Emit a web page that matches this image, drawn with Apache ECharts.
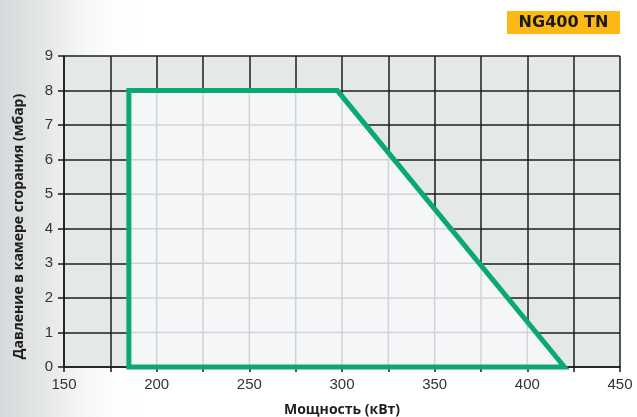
<!DOCTYPE html>
<html><head><meta charset="utf-8">
<script src="https://cdn.jsdelivr.net/npm/echarts@6/dist/echarts.min.js"></script>
<style>html,body{margin:0;padding:0;background:#fff}#c{width:637px;height:417px}</style>
</head><body><div id="c"></div>
<script>
const title = 'NG400 TN';
const xName = 'Мощность (кВт)';
const yName = 'Давление в камере сгорания (мбар)';
const xMin = 150, xMax = 450, xStep = 50, xGridStep = 25;
const yMin = 0, yMax = 9, yStep = 1;
// envelope (working field) corners
const envelopeX = [185, 185, 297.5, 420];
const envelopeY = [0, 8, 8, 0];

const chart = echarts.init(document.getElementById('c'), null, {renderer: 'canvas'});

function topAt(x) { // upper boundary of envelope at x
  if (x < envelopeX[0] || x > envelopeX[3]) return null;
  if (x <= envelopeX[2]) return envelopeY[1];
  return envelopeY[2] * (envelopeX[3] - x) / (envelopeX[3] - envelopeX[2]);
}
function rightAt(y) { // right boundary at y
  return envelopeX[3] - (envelopeX[3] - envelopeX[2]) * y / envelopeY[2];
}

const gridXVals = [];
for (let v = xMin + xGridStep; v < xMax; v += xGridStep) if (v > envelopeX[0] && v < envelopeX[3]) gridXVals.push(v);
const gridYVals = [];
for (let v = yMin + yStep; v < envelopeY[1]; v += yStep) gridYVals.push(v);

chart.setOption({
  animation: false,
  backgroundColor: '#ffffff',
  graphic: [
    {type: 'rect', left: 0, top: 0, shape: {width: 140, height: 417}, z: -10, silent: true,
     style: {fill: new echarts.graphic.LinearGradient(0, 0, 1, 0, [
       {offset: 0, color: '#d6d9db'}, {offset: 0.35, color: '#e6e8e9'}, {offset: 1, color: 'rgba(255,255,255,0)'}])}},
    {type: 'group', right: 17, top: 11, children: [
      {type: 'rect', shape: {x: 0, y: 0, width: 113, height: 23}, style: {fill: '#fdb913'}},
      {type: 'text', x: 56.5, y: 12, style: {text: title, fill: '#1a1a1a', font: 'bold 16px "DejaVu Sans", sans-serif', textAlign: 'center', textVerticalAlign: 'middle'}}
    ]}
  ],
  grid: {left: 64, right: 17, top: 56, bottom: 50, show: true, backgroundColor: '#e4e8e9', borderWidth: 0, outerBoundsMode: 'none', containLabel: false},
  xAxis: {
    type: 'value', min: xMin, max: xMax, interval: xGridStep,
    name: xName, nameLocation: 'middle', nameGap: 36,
    nameTextStyle: {fontFamily: '"Open Sans", sans-serif', fontWeight: 'bold', fontSize: 14, color: '#1e1e1e'},
    axisLine: {show: true, lineStyle: {color: '#1a1a1a', width: 1.5}},
    axisTick: {show: true, length: 5, lineStyle: {color: '#1a1a1a', width: 1.5},
      interval: function (i, v) { return (v - xMin) % xStep === 0; }},
    axisLabel: {margin: 10, fontSize: 15, color: '#333', fontFamily: '"Liberation Sans", Arial, sans-serif',
      formatter: function (v) { return (v - xMin) % xStep === 0 ? String(v) : ''; }},
    splitLine: {show: true, lineStyle: {color: '#1e1e1e', width: 1.5}}
  },
  yAxis: {
    type: 'value', min: yMin, max: yMax, interval: yStep,
    name: yName, nameLocation: 'middle', nameGap: 38, nameRotate: 90,
    nameTextStyle: {fontFamily: '"Open Sans", sans-serif', fontWeight: 'bold', fontSize: 14, color: '#1e1e1e', padding: [0, 0, 0, -30]},
    axisLine: {show: true, lineStyle: {color: '#1a1a1a', width: 1.5}},
    axisTick: {show: true, length: 6, lineStyle: {color: '#1a1a1a', width: 1.5}},
    axisLabel: {margin: 11, fontSize: 15, color: '#333', fontFamily: '"Liberation Sans", Arial, sans-serif'},
    splitLine: {show: true, lineStyle: {color: '#1e1e1e', width: 1.5}}
  },
  series: [{
    type: 'custom', clip: false, z: 5,
    data: [[0]],
    renderItem: function (params, api) {
      const pts = envelopeX.map((x, i) => api.coord([x, envelopeY[i]]));
      const children = [{type: 'polygon', shape: {points: pts}, style: {fill: '#f4f6f8'}, z2: 1}];
      gridXVals.forEach(function (x) {
        const a = api.coord([x, 0]), b = api.coord([x, topAt(x)]);
        children.push({type: 'line', shape: {x1: a[0], y1: a[1], x2: b[0], y2: b[1]}, style: {stroke: '#d2d3d5', lineWidth: 1.5}, z2: 2});
      });
      gridYVals.forEach(function (y) {
        const a = api.coord([envelopeX[0], y]), b = api.coord([rightAt(y), y]);
        children.push({type: 'line', shape: {x1: a[0], y1: a[1], x2: b[0], y2: b[1]}, style: {stroke: '#d2d3d5', lineWidth: 1.5}, z2: 2});
      });
      children.push({type: 'polygon', shape: {points: pts}, style: {fill: null, stroke: '#0aa873', lineWidth: 5, lineJoin: 'miter'}, z2: 3});
      return {type: 'group', children: children};
    }
  }]
});
</script></body></html>
